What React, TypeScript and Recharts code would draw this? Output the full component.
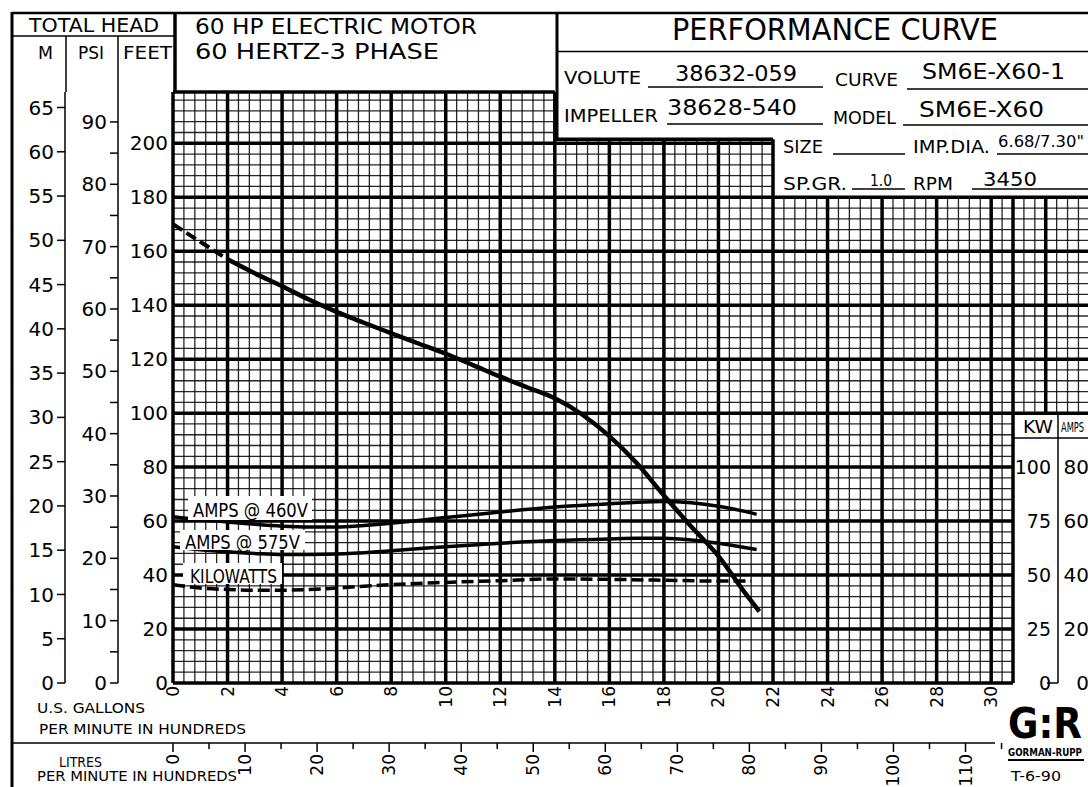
import React from "react";
import { ComposedChart, Line, XAxis, YAxis, ReferenceLine } from "recharts";

const FONT = '"DejaVu Sans", "Liberation Sans", sans-serif';
const W = 1088;
const H = 787;

// flow is in hundreds of U.S. gpm, head in feet
const headDashedGpm = [0, 1, 2];
const headDashedFt = [170, 163.5, 157];
const headGpm = [2, 3, 4, 5, 6, 7, 8, 9, 10, 11, 12, 13, 14, 15, 16, 17, 18, 19, 20, 21, 21.5];
const headFt = [157, 151.8, 147, 142, 137.5, 133.5, 129.6, 125.8, 122, 117.8, 113.5, 109.5, 105.5, 99.5, 91.5, 81.5, 69.5, 58, 47, 33, 26.5];

const amps460Gpm = [0, 1, 2, 3, 4, 5, 6, 7, 8, 10, 12, 14, 16, 17, 18, 19, 20, 21, 21.4];
const amps460 = [61.6, 60.5, 59.7, 58.8, 58.1, 57.8, 57.8, 58.4, 59.2, 61.3, 63.4, 65.2, 66.4, 67, 67.3, 66.8, 65.5, 63.5, 62.5];

const amps575Gpm = [0, 1, 2, 3, 4, 6, 8, 10, 12, 14, 16, 17, 18, 19, 20, 21.4];
const amps575 = [50.5, 49.4, 48.6, 48, 47.6, 47.8, 49, 50.5, 51.8, 52.8, 53.4, 53.6, 53.6, 53, 51.8, 49.5];

const kwGpm = [0, 1, 2, 3, 4, 5, 6, 8, 10, 12, 14, 16, 18, 20, 21.2];
const kwValues = [45.5, 44, 43.3, 43, 43, 43.3, 44, 45.6, 46.6, 47.4, 48.2, 48, 47.6, 47.2, 47.2];

const gpmTicks = [0, 2, 4, 6, 8, 10, 12, 14, 16, 18, 20, 22, 24, 26, 28, 30];
const lpmTicks = [0, 5, 10, 15, 20, 25, 30, 35, 40, 45, 50, 55, 60, 65, 70, 75, 80, 85, 90, 95, 100, 105, 110, 115];
const ftTicks = [0, 20, 40, 60, 80, 100, 120, 140, 160, 180, 200];
const psiTicks = [0, 5, 10, 15, 20, 25, 30, 35, 40, 45, 50, 55, 60, 65, 70, 75, 80, 85, 90];
const mTicks = [0, 5, 10, 15, 20, 25, 30, 35, 40, 45, 50, 55, 60, 65];
const kwTicks = [0, 25, 50, 75, 100];
const ampTicks = [0, 20, 40, 60, 80];

const toPts = (xs: number[], ys: number[]) => xs.map((x, i) => ({ x, y: ys[i] }));

// chart paper limits (the grid has a stepped top and a cut-out for the KW/AMP scale)
const FT_MAX = 219;
const GPM_MAX = 33.55;
const LPM_MAX = GPM_MAX / 0.264172;
const STEP1_X = 14;
const STEP1_Y = 201.5;
const STEP2_X = 22;
const STEP2_Y = 180;
const BOX_X = 30.8;
const BOX_Y = 100;
const MIRROR_W = 60; // width of the first mirrored right axis, the second one sits this far inside

type Seg = { x1: number; y1: number; x2: number; y2: number; thick: boolean };

function buildGrid(): Seg[] {
  const segs: Seg[] = [];
  for (let i = 0; i <= 83; i++) {
    const x = Math.round(i * 0.4 * 100) / 100;
    const top = x <= STEP1_X + 1e-6 ? FT_MAX : x <= STEP2_X + 1e-6 ? STEP1_Y : STEP2_Y;
    const bottom = x > BOX_X + 1e-6 ? BOX_Y : 0;
    segs.push({ x1: x, y1: bottom, x2: x, y2: top, thick: i % 5 === 0 || i === 77 });
  }
  for (let j = 0; j <= 54; j++) {
    const y = j * 4;
    const right = y > STEP1_Y ? STEP1_X : y > STEP2_Y ? STEP2_X : y >= BOX_Y ? GPM_MAX : BOX_X;
    segs.push({ x1: 0, y1: y, x2: right, y2: y, thick: j % 5 === 0 });
  }
  segs.push({ x1: 0, y1: FT_MAX, x2: STEP1_X, y2: FT_MAX, thick: true });
  segs.push({ x1: STEP1_X, y1: STEP1_Y, x2: STEP2_X, y2: STEP1_Y, thick: true });
  return segs;
}

const grid = buildGrid();

const GpmTick = ({ x, y, payload }: any) => (
  <text
    x={x}
    y={y}
    transform={`rotate(-90 ${x} ${y})`}
    textAnchor="end"
    dominantBaseline="central"
    fontSize={17}
    fontFamily={FONT}
    fill="#000"
  >
    {payload.value}
  </text>
);

const LpmTick = ({ x, y, payload }: any) => {
  const major = payload.value % 10 === 0;
  return (
    <g>
      <line x1={x} x2={x} y1={y} y2={y + (major ? 9 : 6)} stroke="#000" strokeWidth={1.5} />
      {major && (
        <text
          x={x}
          y={y + 11}
          transform={`rotate(-90 ${x} ${y + 11})`}
          textAnchor="end"
          dominantBaseline="central"
          fontSize={17}
          fontFamily={FONT}
          fill="#000"
        >
          {payload.value}
        </text>
      )}
    </g>
  );
};

const KwTick = ({ x, y, payload }: any) => (
  <text x={x + MIRROR_W - 37} y={y} textAnchor="end" dominantBaseline="central" fontSize={19} fontFamily={FONT} fill="#000">
    {payload.value}
  </text>
);

const AmpTick = ({ x, y, payload }: any) => (
  <text x={x + 1} y={y} textAnchor="end" dominantBaseline="central" fontSize={20} fontFamily={FONT} fill="#000">
    {payload.value}
  </text>
);

const T = (p: { x: number; y: number; s: number; w?: number; children: React.ReactNode }) => (
  <text
    x={p.x}
    y={p.y}
    fontSize={p.s}
    fontFamily={FONT}
    fill="#000"
    textLength={p.w}
    lengthAdjust={p.w ? "spacingAndGlyphs" : undefined}
  >
    {p.children}
  </text>
);

const L = (p: { x1: number; y1: number; x2: number; y2: number; w?: number }) => (
  <line x1={p.x1} y1={p.y1} x2={p.x2} y2={p.y2} stroke="#000" strokeWidth={p.w ?? 1.5} />
);

const axisTick = { fontSize: 20, fill: "#000", fontFamily: FONT };

export default function App() {
  return (
    <div style={{ position: "absolute", left: 0, top: 0, width: W, height: H, background: "#fff", overflow: "hidden" }}>
      <ComposedChart width={W} height={H} margin={{ top: 92, right: 0, bottom: 0, left: 12 }}>
        <XAxis
          xAxisId="a_gpm"
          dataKey="x"
          type="number"
          domain={[0, GPM_MAX]}
          ticks={gpmTicks}
          interval={0}
          allowDataOverflow
          height={60}
          axisLine={false}
          tickLine={false}
          tickSize={0}
          tickMargin={3}
          tick={<GpmTick />}
        />
        <XAxis
          xAxisId="b_lpm"
          dataKey="x"
          type="number"
          domain={[0, LPM_MAX]}
          ticks={lpmTicks}
          interval={0}
          allowDataOverflow
          height={44}
          axisLine={false}
          tickLine={false}
          tickSize={0}
          tickMargin={0}
          tick={<LpmTick />}
        />
        <YAxis
          yAxisId="a_ft"
          type="number"
          domain={[0, FT_MAX]}
          ticks={ftTicks}
          interval={0}
          allowDataOverflow
          width={55}
          axisLine={false}
          tickLine={false}
          tickSize={3}
          tickMargin={2}
          tick={axisTick}
        />
        <YAxis
          yAxisId="b_psi"
          type="number"
          domain={[0, FT_MAX / 2.31]}
          ticks={psiTicks}
          interval={0}
          allowDataOverflow
          width={53}
          axisLine={{ stroke: "#000", strokeWidth: 1.5 }}
          tickLine={{ stroke: "#000", strokeWidth: 1.5 }}
          tickSize={8}
          tickMargin={3}
          tickFormatter={(v: number) => (v % 10 === 0 ? String(v) : "")}
          tick={axisTick}
        />
        <YAxis
          yAxisId="c_m"
          type="number"
          domain={[0, FT_MAX * 0.3048]}
          ticks={mTicks}
          interval={0}
          allowDataOverflow
          width={53}
          axisLine={{ stroke: "#000", strokeWidth: 1.5 }}
          tickLine={{ stroke: "#000", strokeWidth: 1.5 }}
          tickSize={8}
          tickMargin={3}
          tick={axisTick}
        />
        <YAxis
          yAxisId="d_amps"
          orientation="right"
          mirror
          width={MIRROR_W}
          type="number"
          domain={[0, FT_MAX]}
          ticks={ampTicks}
          interval={0}
          allowDataOverflow
          axisLine={false}
          tickLine={false}
          tickSize={0}
          tickMargin={0}
          tick={<AmpTick />}
        />
        <YAxis
          yAxisId="e_kw"
          orientation="right"
          mirror
          width={MIRROR_W}
          type="number"
          domain={[0, FT_MAX * 1.25]}
          ticks={kwTicks}
          interval={0}
          allowDataOverflow
          axisLine={false}
          tickLine={false}
          tickSize={0}
          tickMargin={0}
          tick={<KwTick />}
        />

        {grid.map((g, i) => (
          <ReferenceLine
            key={i}
            xAxisId="a_gpm"
            yAxisId="a_ft"
            ifOverflow="visible"
            segment={[
              { x: g.x1, y: g.y1 },
              { x: g.x2, y: g.y2 },
            ]}
            stroke="#000"
            strokeWidth={g.thick ? 3.5 : 1.3}
            strokeOpacity={g.thick ? 1 : 0.85}
          />
        ))}

        <Line
          xAxisId="a_gpm"
          yAxisId="a_ft"
          data={toPts(headDashedGpm, headDashedFt)}
          dataKey="y"
          type="monotone"
          stroke="#000"
          strokeWidth={4}
          strokeDasharray="11 5"
          dot={false}
          isAnimationActive={false}
        />
        <Line
          xAxisId="a_gpm"
          yAxisId="a_ft"
          data={toPts(headGpm, headFt)}
          dataKey="y"
          type="monotone"
          stroke="#000"
          strokeWidth={4.5}
          dot={false}
          isAnimationActive={false}
        />
        <Line
          xAxisId="a_gpm"
          yAxisId="d_amps"
          data={toPts(amps460Gpm, amps460)}
          dataKey="y"
          type="monotone"
          stroke="#000"
          strokeWidth={3.5}
          dot={false}
          isAnimationActive={false}
        />
        <Line
          xAxisId="a_gpm"
          yAxisId="d_amps"
          data={toPts(amps575Gpm, amps575)}
          dataKey="y"
          type="monotone"
          stroke="#000"
          strokeWidth={3.5}
          dot={false}
          isAnimationActive={false}
        />
        <Line
          xAxisId="a_gpm"
          yAxisId="e_kw"
          data={toPts(kwGpm, kwValues)}
          dataKey="y"
          type="monotone"
          stroke="#000"
          strokeWidth={3.5}
          strokeDasharray="12 5"
          dot={false}
          isAnimationActive={false}
        />
        {/* empty series so the litres axis is laid out */}
        <Line
          xAxisId="b_lpm"
          yAxisId="a_ft"
          data={[]}
          dataKey="y"
          stroke="none"
          dot={false}
          legendType="none"
          isAnimationActive={false}
        />
      </ComposedChart>

      <svg width={W} height={H} style={{ position: "absolute", left: 0, top: 0, pointerEvents: "none" }}>
        {/* frame */}
        <L x1={12} y1={12} x2={12} y2={787} w={3} />
        <L x1={12} y1={13} x2={1088} y2={13} w={2.5} />

        {/* total head header */}
        <T x={29} y={32} s={20} w={130}>TOTAL HEAD</T>
        <L x1={12} y1={36} x2={175} y2={36} />
        <L x1={66} y1={36} x2={66} y2={92} />
        <L x1={118} y1={36} x2={118} y2={92} />
        <L x1={175} y1={13} x2={175} y2={93} w={3.5} />
        <T x={38} y={59} s={17} w={15}>M</T>
        <T x={78} y={59} s={17} w={26}>PSI</T>
        <T x={123} y={59} s={17} w={49}>FEET</T>

        {/* motor box */}
        <T x={195} y={34} s={21} w={282}>60 HP ELECTRIC MOTOR</T>
        <T x={195} y={59} s={21} w={244}>60 HERTZ-3 PHASE</T>
        <L x1={557} y1={13} x2={557} y2={140} w={3} />

        {/* performance box */}
        <T x={672} y={40} s={30} w={326}>PERFORMANCE CURVE</T>
        <L x1={557} y1={51.5} x2={1088} y2={51.5} />

        <T x={564} y={84} s={18} w={77}>VOLUTE</T>
        <L x1={648} y1={87} x2={823} y2={87} />
        <T x={675} y={81} s={22} w={122}>38632-059</T>
        <T x={835} y={86} s={18} w={63}>CURVE</T>
        <L x1={907} y1={89} x2={1088} y2={89} />
        <T x={922} y={79} s={22} w={143}>SM6E-X60-1</T>

        <T x={564} y={122} s={18} w={94}>IMPELLER</T>
        <L x1={667} y1={124} x2={823} y2={124} />
        <T x={667} y={115} s={22} w={130}>38628-540</T>
        <T x={833} y={124} s={18} w={63}>MODEL</T>
        <L x1={903} y1={125} x2={1088} y2={125} />
        <T x={919} y={117} s={22} w={125}>SM6E-X60</T>

        <T x={783} y={153} s={17} w={40}>SIZE</T>
        <L x1={833} y1={154} x2={905} y2={154} />
        <T x={913} y={153} s={17} w={77}>IMP.DIA.</T>
        <L x1={997} y1={154} x2={1088} y2={154} />
        <T x={998} y={147} s={16} w={86}>6.68/7.30"</T>
        <T x={783} y={190} s={17} w={64}>SP.GR.</T>
        <L x1={852} y1={189} x2={905} y2={189} />
        <T x={870} y={186} s={15} w={22}>1.0</T>
        <T x={913} y={190} s={17} w={40}>RPM</T>
        <L x1={972} y1={189} x2={1088} y2={189} />
        <T x={983} y={186} s={19} w={54}>3450</T>

        {/* curve labels */}
        <rect x={188} y={496} width={124} height={24} fill="#fff" />
        <T x={193} y={517} s={20} w={115}>AMPS @ 460V</T>
        <rect x={180} y={530} width={125} height={20} fill="#fff" />
        <T x={185} y={549} s={20} w={115}>AMPS @ 575V</T>
        <rect x={183} y={563} width={99} height={21} fill="#fff" />
        <T x={190} y={583} s={20} w={87}>KILOWATTS</T>

        {/* KW / AMP scale box */}
        <L x1={1013} y1={438} x2={1088} y2={438} />
        <L x1={1058} y1={413} x2={1058} y2={683} />
        <L x1={1047} y1={683} x2={1058} y2={683} />
        <T x={1023} y={433} s={17} w={30}>KW</T>
        <T x={1061} y={432} s={14} w={23}>AMPS</T>

        {/* flow axis captions */}
        <T x={37} y={713} s={14} w={108}>U.S. GALLONS</T>
        <T x={39} y={734} s={14} w={207}>PER MINUTE IN HUNDREDS</T>
        <L x1={12} y1={743} x2={995} y2={743} />
        <T x={59} y={767} s={14} w={43}>LITRES</T>
        <T x={37} y={781} s={14} w={200}>PER MINUTE IN HUNDREDS</T>

        {/* maker mark */}
        <text x={1008} y={738} fontSize={42} fontWeight={900} fontFamily={FONT} fill="#000" textLength={74} lengthAdjust="spacingAndGlyphs">
          G:R
        </text>
        <text x={1008} y={756} fontSize={10} fontWeight={700} fontFamily={FONT} fill="#000" textLength={74} lengthAdjust="spacingAndGlyphs">
          GORMAN-RUPP
        </text>
        <L x1={1008} y1={760} x2={1084} y2={760} w={2} />
        <T x={1011} y={781} s={14} w={50}>T-6-90</T>
      </svg>
    </div>
  );
}
